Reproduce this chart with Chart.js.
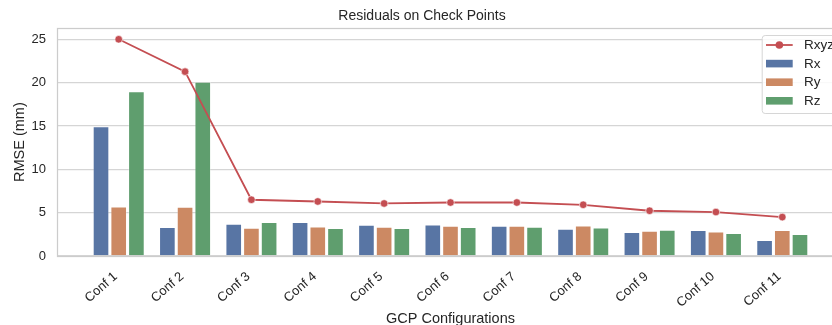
<!DOCTYPE html>
<html><head><meta charset="utf-8">
<script src="https://cdn.jsdelivr.net/npm/chart.js@4.4.1/dist/chart.umd.min.js"></script>
<style>
html,body{margin:0;padding:0;background:#fff;overflow:hidden;}
#wrap{width:832px;height:325px;overflow:hidden;position:relative;}
canvas{display:block;}
</style></head><body>
<div id="wrap"><canvas id="c" width="860" height="325"></canvas></div>
<script>
const categories = ['Conf 1','Conf 2','Conf 3','Conf 4','Conf 5','Conf 6','Conf 7','Conf 8','Conf 9','Conf 10','Conf 11'];
const rxyz = [25.0, 21.27, 6.49, 6.29, 6.06, 6.17, 6.17, 5.91, 5.22, 5.07, 4.49];
const rx   = [14.98, 3.34, 3.72, 3.92, 3.60, 3.64, 3.49, 3.14, 2.76, 2.99, 1.84];
const ry   = [5.71, 5.68, 3.26, 3.41, 3.38, 3.49, 3.49, 3.53, 2.91, 2.84, 2.99];
const rz   = [19.0, 20.1, 3.92, 3.22, 3.22, 3.34, 3.38, 3.30, 3.03, 2.65, 2.53];
const yTicks = [0, 5, 10, 15, 20, 25];

const FONT = "'Liberation Sans', Arial, sans-serif";
const TXT = '#262626';
Chart.defaults.font.family = FONT;
Chart.defaults.color = TXT;

const toXY = arr => arr.map((v, i) => ({x: i, y: v}));

const framePlugin = {
  id: 'frame',
  afterDatasetsDraw(chart) {
    const {ctx, chartArea: a} = chart;
    ctx.save();
    ctx.strokeStyle = '#cccccc';
    ctx.lineWidth = 1.25;
    ctx.strokeRect(Math.round(a.left) + 0.5, Math.round(a.top) + 0.5, Math.round(a.right - a.left), Math.round(a.bottom - a.top));
    ctx.restore();
  }
};

const legendPlugin = {
  id: 'customLegend',
  afterDraw(chart) {
    const {ctx, chartArea: a} = chart;
    const L = a.right - 82.3, T = a.top + 6.7, W = 76, H = 78;
    ctx.save();
    ctx.beginPath();
    if (ctx.roundRect) ctx.roundRect(L + 0.5, T + 0.5, W, H, 3); else ctx.rect(L + 0.5, T + 0.5, W, H);
    ctx.fillStyle = 'rgba(255,255,255,0.85)';
    ctx.fill();
    ctx.strokeStyle = '#d6d6d6';
    ctx.lineWidth = 1;
    ctx.stroke();
    ctx.font = '13.5px ' + FONT;
    ctx.textBaseline = 'middle';
    ctx.textAlign = 'left';
    chart.data.datasets.forEach((ds, i) => {
      const y = T + 10 + i * 18.6;
      const x0 = L + 4.3, x1 = L + 31;
      if (ds.type === 'line') {
        ctx.strokeStyle = ds.borderColor;
        ctx.lineWidth = 1.8;
        ctx.beginPath(); ctx.moveTo(x0, y); ctx.lineTo(x1, y); ctx.stroke();
        ctx.beginPath(); ctx.arc((x0 + x1) / 2, y, 3.8, 0, Math.PI * 2);
        ctx.fillStyle = ds.borderColor; ctx.fill();
      } else {
        ctx.fillStyle = ds.backgroundColor;
        ctx.fillRect(x0, y - 3.8, x1 - x0, 7.6);
      }
      ctx.fillStyle = TXT;
      ctx.fillText(ds.label, L + 42.3, y + 0.5);
    });
    ctx.restore();
  }
};

const barCommon = {
  categoryPercentage: 0.8,
  barPercentage: 0.94,
  borderWidth: 1,
  borderColor: 'rgba(255,255,255,0.3)',
  borderSkipped: 'start'
};

new Chart(document.getElementById('c'), {
  type: 'bar',
  data: {
    datasets: [
      { type: 'line', label: 'Rxyz', data: toXY(rxyz), borderColor: '#C44E52', backgroundColor: '#C44E52',
        borderWidth: 1.8, pointRadius: 3.8, pointBackgroundColor: '#C44E52', pointBorderColor: '#ffffff',
        pointBorderWidth: 0.6, tension: 0 },
      Object.assign({ label: 'Rx', data: toXY(rx), backgroundColor: '#5875A4' }, barCommon),
      Object.assign({ label: 'Ry', data: toXY(ry), backgroundColor: '#CC8963' }, barCommon),
      Object.assign({ label: 'Rz', data: toXY(rz), backgroundColor: '#5F9E6E' }, barCommon)
    ]
  },
  options: {
    responsive: false,
    animation: false,
    layout: { padding: { left: 0, right: 16, top: 0, bottom: 0 } },
    plugins: {
      legend: { display: false },
      tooltip: { enabled: false },
      title: { display: true, text: 'Residuals on Check Points', color: TXT,
        font: { size: 14, weight: 'normal', family: FONT }, padding: { top: 8, bottom: 3.5 } }
    },
    scales: {
      x: {
        type: 'linear', min: -0.93, max: 10.93, offset: false,
        afterBuildTicks: s => { s.ticks = categories.map((c, i) => ({ value: i })); },
        afterFit: s => { s.height = 69; },
        grid: { display: false, drawTicks: false },
        border: { display: false },
        ticks: { autoSkip: false, minRotation: 41, maxRotation: 41, padding: 13, labelOffset: -3, color: TXT,
          font: { size: 13, family: FONT }, callback: v => categories[v] },
        title: { display: true, text: 'GCP Configurations', color: TXT,
          font: { size: 14.5, family: FONT }, padding: { top: 0, bottom: -2.5 } }
      },
      y: {
        min: 0, max: 26.27,
        afterBuildTicks: s => { s.ticks = yTicks.map(v => ({ value: v })); },
        afterFit: s => { s.width = 57; },
        grid: { color: '#d5d5d5', lineWidth: 1.3, drawTicks: false },
        border: { display: false },
        ticks: { padding: 11, color: TXT, font: { size: 13, family: FONT } },
        title: { display: true, text: 'RMSE (mm)', color: TXT,
          font: { size: 14.5, family: FONT }, padding: { top: 11, bottom: 0 } }
      }
    }
  },
  plugins: [framePlugin, legendPlugin]
});
</script>
</body></html>
